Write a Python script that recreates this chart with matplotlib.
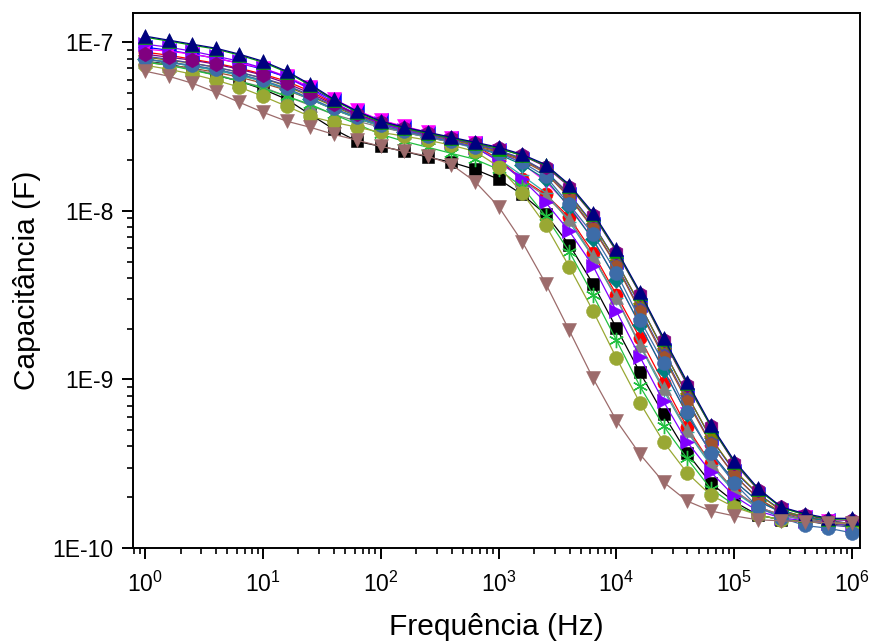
import numpy as np
import matplotlib
matplotlib.use('Agg')
import matplotlib.pyplot as plt
from matplotlib.ticker import LogLocator, NullFormatter

plt.rcParams['font.family'] = ['Liberation Sans', 'DejaVu Sans']
plt.rcParams['mathtext.fontset'] = 'custom'
plt.rcParams['mathtext.rm'] = 'Liberation Sans'
plt.rcParams['mathtext.it'] = 'Liberation Sans'

# frequency points (Hz), 5 per decade
freq = [1, 1.585, 2.512, 3.981, 6.31, 10, 15.85, 25.12, 39.81, 63.1,
        100, 158.5, 251.2, 398.1, 631, 1000, 1585, 2512, 3981, 6310,
        1e4, 1.585e4, 2.512e4, 3.981e4, 6.31e4, 1e5, 1.585e5, 2.512e5,
        3.981e5, 6.31e5, 1e6]

# capacitance values in nF
cap_black = [77.1, 74.0, 69.1, 63.7, 58.7, 52.6, 45.9, 37.3, 30.5, 25.8, 24.1, 22.5, 20.8, 19.4, 17.6, 15.4,
             12.5, 9.52, 6.3, 3.70, 2.02, 1.10, 0.62, 0.366, 0.243, 0.188, 0.157, 0.147, 0.144, 0.139, 0.136]
cap_red = [87.2, 83.7, 79.2, 75.0, 70.1, 64.6, 58.7, 51.2, 43.4, 37.3, 33.0, 30.5, 28.4, 26.6, 24.5, 20.2,
           15.4, 12.5, 9.15, 5.65, 3.18, 1.76, 0.955, 0.52, 0.319, 0.22, 0.175, 0.157, 0.147, 0.141, 0.137]
cap_blue = [93.4, 89.6, 84.9, 80.3, 75.0, 69.1, 62.0, 53.3, 45.3, 38.9, 34.4, 31.3, 28.8, 26.9, 25.1, 22.8,
            20.2, 17.1, 12.6, 8.4, 5.0, 2.77, 1.50, 0.81, 0.45, 0.285, 0.21, 0.168, 0.152, 0.146, 0.139]
cap_magenta = [90.9, 88.4, 84.9, 80.3, 75.0, 70.1, 62.8, 54.1, 45.9, 39.4, 34.4, 31.7, 29.2, 26.9, 25.1, 22.5,
               19.1, 14.9, 10.7, 6.78, 3.9, 2.11, 1.14, 0.62, 0.37, 0.25, 0.19, 0.163, 0.152, 0.144, 0.139]
cap_olive = [81.4, 78.2, 75.0, 71.0, 66.3, 61.1, 54.8, 47.8, 41.7, 36.3, 32.6, 30.0, 28.1, 26.2, 24.5, 22.5,
             20.2, 17.1, 12.5, 8.29, 5.0, 2.78, 1.49, 0.81, 0.45, 0.29, 0.21, 0.166, 0.154, 0.144, 0.140]
cap_slate = [82.6, 79.2, 75.0, 71.0, 66.3, 61.1, 55.6, 48.5, 42.2, 36.8, 33.0, 30.5, 28.4, 26.6, 24.8, 22.8,
             20.5, 17.1, 12.2, 7.97, 4.8, 2.6, 1.40, 0.76, 0.42, 0.27, 0.198, 0.161, 0.147, 0.137, 0.133]
cap_cyan = [79.2, 76.1, 72.0, 68.2, 63.7, 58.7, 52.6, 45.9, 40.0, 35.4, 31.7, 29.2, 27.3, 25.5, 23.8, 21.6,
            18.8, 15.4, 10.5, 6.78, 3.9, 2.11, 1.14, 0.62, 0.37, 0.25, 0.19, 0.163, 0.152, 0.144, 0.137]
cap_sienna = [76.1, 73.0, 70.1, 66.3, 62.0, 57.1, 51.9, 45.9, 40.0, 35.4, 31.7, 29.6, 27.7, 25.8, 24.1, 22.2,
              19.9, 16.7, 12.0, 7.86, 4.73, 2.54, 1.36, 0.74, 0.415, 0.27, 0.198, 0.163, 0.150, 0.141, 0.137]
cap_teal = [79.2, 76.1, 72.0, 68.2, 63.7, 58.7, 52.6, 45.9, 40.0, 35.4, 31.7, 29.2, 27.3, 25.5, 23.5, 20.2,
            16.2, 12.8, 8.6, 5.33, 3.02, 1.58, 0.86, 0.49, 0.31, 0.216, 0.172, 0.156, 0.147, 0.141, 0.137]
cap_gray = [77.1, 73.0, 69.1, 64.6, 58.7, 54.1, 47.8, 42.2, 37.3, 34.0, 31.3, 29.2, 27.3, 25.5, 23.8, 19.9,
            15.2, 12.2, 8.92, 5.40, 3.06, 1.61, 0.89, 0.50, 0.319, 0.22, 0.175, 0.157, 0.147, 0.141, 0.137]
cap_violet = [97.3, 93.4, 88.4, 82.6, 77.1, 70.1, 62.0, 52.6, 44.0, 37.3, 33.0, 30.0, 27.7, 25.8, 23.8, 19.7,
              15.4, 11.2, 7.57, 4.73, 2.54, 1.36, 0.74, 0.426, 0.283, 0.203, 0.166, 0.151, 0.145, 0.141, 0.137]
cap_star = [76.1, 73.0, 68.2, 63.7, 58.7, 53.3, 47.8, 42.8, 37.3, 32.6, 28.4, 25.8, 23.8, 21.9, 20.2, 17.6,
            13.9, 9.28, 5.73, 3.18, 1.71, 0.91, 0.53, 0.34, 0.225, 0.18, 0.157, 0.147, 0.143, 0.141, 0.139]
cap_yellowgreen = [73.0, 69.1, 64.6, 59.5, 54.1, 47.8, 41.7, 36.3, 33.5, 31.3, 29.2, 27.7, 26.2, 24.5, 22.5, 18.3,
                   12.8, 8.2, 4.66, 2.56, 1.34, 0.726, 0.426, 0.279, 0.206, 0.175, 0.157, 0.147, 0.143, 0.141, 0.139]
cap_steel = [79.2, 76.1, 73.0, 69.1, 64.6, 59.5, 53.3, 46.5, 40.5, 35.9, 32.2, 29.6, 27.7, 25.8, 23.8, 21.9,
             19.4, 16.0, 10.9, 7.28, 4.30, 2.26, 1.255, 0.645, 0.366, 0.243, 0.175, 0.151, 0.136, 0.131, 0.123]
cap_purple = [84.9, 81.4, 78.2, 74.0, 69.1, 63.7, 57.1, 49.8, 42.8, 37.3, 33.5, 30.9, 28.8, 26.9, 25.1, 23.5,
              21.3, 18.3, 13.9, 9.5, 5.73, 3.22, 1.71, 0.93, 0.53, 0.32, 0.222, 0.175, 0.157, 0.147, 0.146]
cap_green = [107, 101.5, 96, 91, 83.8, 76, 66.4, 55.5, 45.3, 38.4, 33.6, 30.9, 28.8, 27.0, 25.2, 23.4,
             21.3, 18.6, 14.1, 9.6, 5.8, 3.25, 1.74, 0.95, 0.53, 0.325, 0.224, 0.173, 0.158, 0.148, 0.149]
cap_navy = [108.6, 102.8, 97.3, 92.1, 84.9, 77.1, 67.3, 56.3, 45.9, 38.9, 34.0, 31.3, 29.2, 27.3, 25.5, 23.8,
            21.6, 18.8, 14.3, 9.76, 5.9, 3.3, 1.77, 0.97, 0.54, 0.33, 0.227, 0.175, 0.16, 0.15, 0.15]
cap_brown = [67.3, 62.8, 57.1, 50.5, 44.0, 38.4, 34.0, 31.3, 28.4, 26.2, 24.1, 22.5, 21.1, 18.8, 14.9, 10.6,
             6.56, 3.70, 1.95, 1.02, 0.57, 0.36, 0.246, 0.19, 0.166, 0.155, 0.147, 0.145, 0.143, 0.141, 0.141]

# (data, colour, marker, size) in drawing order
series = [
    (cap_black, '#000000', 's', 8.5),
    (cap_red, '#FF0000', 'o', 9.5),
    (cap_blue, '#0000FF', '<', 9.5),
    (cap_magenta, '#FF00FF', 'v', 9.5),
    (cap_olive, '#808000', 'p', 10),
    (cap_slate, '#4B4BA0', 'h', 10),
    (cap_cyan, '#008080', 'D', 8),
    (cap_sienna, '#A0522D', 'h', 9.5),
    (cap_teal, '#33AAAA', '+', 10),
    (cap_gray, '#808080', '^', 10),
    (cap_violet, '#8000FF', '>', 9.5),
    (cap_star, '#22C040', (6, 2, 0), 11),
    (cap_yellowgreen, '#99A833', 'o', 10),
    (cap_steel, '#3D6CA8', 'o', 10),
    (cap_purple, '#800080', 'h', 10.5),
    (cap_green, '#00A000', '^', 10.5),
    (cap_navy, '#000080', '^', 9.5),
    (cap_brown, '#9C6B6B', 'v', 10.5),
]

fig = plt.figure(figsize=(8.69, 6.42), dpi=100)
ax = fig.add_axes([0.153, 0.1464, 0.8367, 0.8334])

f = np.array(freq)
for vals, c, m, ms in series:
    ax.plot(f, np.array(vals) * 1e-9, color=c, lw=0.9, marker=m, ms=ms,
            mfc=c, mec=c, mew=1.0 if m in ('+', (6, 2, 0)) else 0.4)

ax.set_xscale('log')
ax.set_yscale('log')
ax.set_xlim(0.788, 1.17e6)
ax.set_ylim(1e-10, 1.49e-7)

ax.set_xticks([1e0, 1e1, 1e2, 1e3, 1e4, 1e5, 1e6])
ax.xaxis.set_minor_locator(LogLocator(base=10, subs=np.arange(2, 10), numticks=20))
ax.xaxis.set_minor_formatter(NullFormatter())
ax.set_yticks([1e-10, 1e-9, 1e-8, 1e-7])
ax.set_yticklabels(['1E-10', '1E-9', '1E-8', '1E-7'])
ax.yaxis.set_minor_locator(LogLocator(base=10, subs=np.arange(2, 10), numticks=20))
ax.yaxis.set_minor_formatter(NullFormatter())

for s in ax.spines.values():
    s.set_linewidth(1.4)
ax.tick_params(which='major', direction='out', length=8, width=1.4, labelsize=16.5, pad=6)
ax.tick_params(which='minor', direction='out', length=4, width=1.2)
ax.tick_params(axis='x', pad=9)

ax.set_xlabel('Frequência (Hz)', fontsize=21.5, labelpad=12)
ax.set_ylabel('Capacitância (F)', fontsize=21.5, labelpad=8)

fig.savefig('out.png', dpi=100)
